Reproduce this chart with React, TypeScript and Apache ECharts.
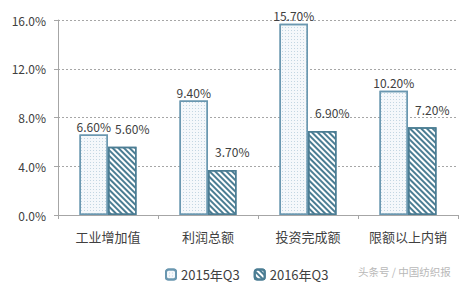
import React, { useEffect, useRef } from "react";
import * as echarts from "echarts";

const categories = ["工业增加值", "利润总额", "投资完成额", "限额以上内销"];
const series2015 = [6.6, 9.4, 15.7, 10.2];
const series2016 = [5.6, 3.7, 6.9, 7.2];
const seriesNames = ["2015年Q3", "2016年Q3"];
const yTicks = [0, 4, 8, 12, 16];

const FONT = "'Noto Sans CJK SC', 'Noto Sans', sans-serif";

export default function App() {
  const ref = useRef<HTMLDivElement>(null);
  useEffect(() => {
    document.body.style.margin = "0";
    const chart = echarts.init(ref.current!, null, { renderer: "svg" });
    chart.setOption({
      animation: false,
      backgroundColor: "#ffffff",
      textStyle: { fontFamily: FONT },
      grid: { left: 58, right: 4, top: 20, bottom: 68 },
      legend: {
        data: seriesNames,
        left: 160,
        top: 263,
        itemWidth: 10,
        itemHeight: 10,
        itemGap: 14,
        textStyle: { fontSize: 13, color: "#404040", fontFamily: FONT },
      },
      xAxis: {
        type: "category",
        data: categories,
        axisLine: { lineStyle: { color: "#a6a6a6", width: 1 } },
        axisTick: { show: true, length: 4, lineStyle: { color: "#a6a6a6" } },
        axisLabel: { interval: 0, fontSize: 13, color: "#404040", margin: 15, fontFamily: FONT },
      },
      yAxis: {
        type: "value",
        min: yTicks[0],
        max: yTicks[yTicks.length - 1],
        interval: 4,
        axisLine: { show: true, lineStyle: { color: "#a6a6a6", width: 1 } },
        axisTick: { show: true, length: 5, lineStyle: { color: "#a6a6a6", type: "dashed" } },
        axisLabel: {
          fontSize: 12,
          color: "#404040",
          margin: 12,
          fontFamily: FONT,
          formatter: (v: number) => v.toFixed(1) + "%",
        },
        splitLine: { lineStyle: { color: "#a6a6a6", type: [2, 2], width: 1 } },
      },
      series: [
        {
          name: seriesNames[0],
          type: "bar",
          data: series2015,
          barWidth: 28.5,
          barGap: "0%",
          itemStyle: {
            color: "#f5f8fb",
            borderColor: "#6a97b0",
            borderWidth: 1.5,
            decal: {
              symbol: "rect",
              symbolSize: 1,
              dashArrayX: [1, 2],
              dashArrayY: [1, 2],
              color: "#c3d6e2",
            },
          },
          label: {
            show: true,
            position: "top",
            distance: 2,
            fontSize: 12,
            color: "#404040",
            fontFamily: FONT,
            formatter: (p: any) => p.value.toFixed(2) + "%",
          },
        },
        {
          name: seriesNames[1],
          type: "bar",
          data: series2016,
          barWidth: 28.5,
          barGap: "0%",
          itemStyle: {
            color: "#ffffff",
            borderColor: "#4b7d93",
            borderWidth: 1.5,
            decal: {
              symbol: "rect",
              symbolSize: 1,
              dashArrayX: [1, 0],
              dashArrayY: [2, 2],
              rotation: Math.PI / 4,
              color: "#4b7d93",
            },
          },
          label: {
            show: true,
            position: "top",
            distance: 6,
            offset: [10, -6],
            fontSize: 12,
            color: "#404040",
            fontFamily: FONT,
            formatter: (p: any) => p.value.toFixed(2) + "%",
          },
        },
      ],
      graphic: [
        {
          type: "text",
          left: 358,
          top: 266,
          style: {
            text: "头条号 / 中国纺织报",
            fill: "#b8b8b8",
            fontSize: 10.5,
            fontFamily: FONT,
          },
        },
      ],
    });
    return () => chart.dispose();
  }, []);
  return (
    <div
      ref={ref}
      style={{ position: "fixed", left: 0, top: 0, width: 462, height: 283 }}
    />
  );
}
